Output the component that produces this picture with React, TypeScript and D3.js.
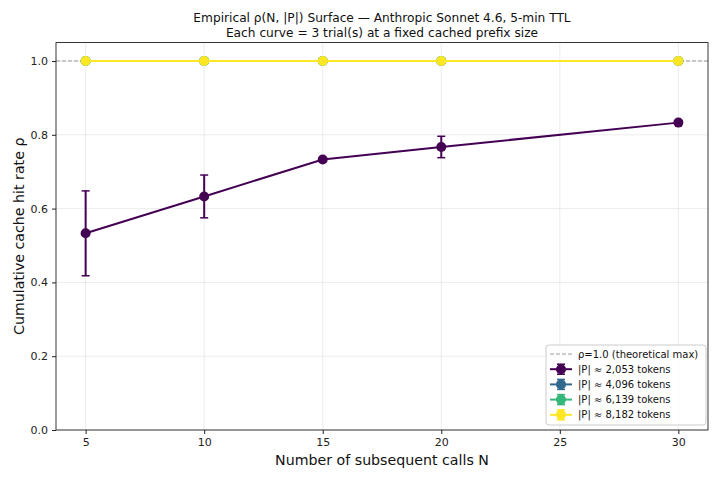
import React, { useEffect, useRef } from 'react'
import * as d3 from 'd3'

// subsequent-call counts sampled in every curve
const callCounts = [5, 10, 15, 20, 30]

const prefixLabels = ['|P| ≈ 2,053 tokens', '|P| ≈ 4,096 tokens', '|P| ≈ 6,139 tokens', '|P| ≈ 8,182 tokens']
const prefixColors = ['#440154', '#31688e', '#35b779', '#fde725']

// mean hit rate per prefix size
const rho2053 = [0.533, 0.633, 0.733, 0.767, 0.833]
const rho4096 = [1.0, 1.0, 1.0, 1.0, 1.0]
const rho6139 = [1.0, 1.0, 1.0, 1.0, 1.0]
const rho8182 = [1.0, 1.0, 1.0, 1.0, 1.0]

// spread across trials
const err2053 = [0.115, 0.058, 0.0, 0.029, 0.0]
const err4096 = [0, 0, 0, 0, 0]
const err6139 = [0, 0, 0, 0, 0]
const err8182 = [0, 0, 0, 0, 0]

const xTicks = [5, 10, 15, 20, 25, 30]
const yTicks = [0.0, 0.2, 0.4, 0.6, 0.8, 1.0]

export default function App() {
    const ref = useRef<SVGSVGElement | null>(null)

    const width = 720
    const height = 480
    const margin = { top: 42.55, right: 12, bottom: 50, left: 56 }

    function draw() {
        const svg = d3.select(ref.current)
        svg.selectAll('*').remove()
        svg.attr('width', width).attr('height', height)
            .style('position', 'absolute').style('left', 0).style('top', 0)
            .style('font-family', 'DejaVu Sans, sans-serif')

        svg.append('rect').attr('width', width).attr('height', height).attr('fill', 'white')

        const x = d3.scaleLinear().domain([3.75, 31.25]).range([margin.left, width - margin.right])
        const y = d3.scaleLinear().domain([0, 1.05]).range([height - margin.bottom, margin.top])

        const series = [rho2053, rho4096, rho6139, rho8182]
        const errs = [err2053, err4096, err6139, err8182]

        // grid
        const grid = svg.append('g')
        grid.selectAll('line.gx').data(xTicks).enter().append('line')
            .attr('x1', d => x(d)).attr('x2', d => x(d))
            .attr('y1', y(1.05)).attr('y2', y(0))
            .attr('stroke', '#b0b0b0').attr('stroke-opacity', 0.3).attr('stroke-width', 0.8)
        grid.selectAll('line.gy').data(yTicks).enter().append('line')
            .attr('y1', d => y(d)).attr('y2', d => y(d))
            .attr('x1', x(3.75)).attr('x2', x(31.25))
            .attr('stroke', '#b0b0b0').attr('stroke-opacity', 0.3).attr('stroke-width', 0.8)

        // theoretical ceiling
        svg.append('line')
            .attr('x1', x(3.75)).attr('x2', x(31.25))
            .attr('y1', y(1)).attr('y2', y(1))
            .attr('stroke', '#999').attr('stroke-width', 1).attr('stroke-dasharray', '4,2')

        const line = d3.line<number>().x((_, i) => x(callCounts[i])).y(d => y(d))

        series.forEach((vals, si) => {
            const g = svg.append('g')
            const c = prefixColors[si]
            g.selectAll('line.err').data(vals).enter().append('line')
                .attr('x1', (_, i) => x(callCounts[i])).attr('x2', (_, i) => x(callCounts[i]))
                .attr('y1', (d, i) => y(d - errs[si][i])).attr('y2', (d, i) => y(d + errs[si][i]))
                .attr('stroke', c).attr('stroke-width', 2)
            ;[-1, 1].forEach(s => {
                g.selectAll('line.cap' + s).data(vals).enter().append('line')
                    .attr('x1', (_, i) => x(callCounts[i]) - 4).attr('x2', (_, i) => x(callCounts[i]) + 4)
                    .attr('y1', (d, i) => y(d + s * errs[si][i])).attr('y2', (d, i) => y(d + s * errs[si][i]))
                    .attr('stroke', c).attr('stroke-width', 1.5)
            })
            g.append('path').attr('d', line(vals)).attr('fill', 'none')
                .attr('stroke', c).attr('stroke-width', 2)
            g.selectAll('circle').data(vals).enter().append('circle')
                .attr('cx', (_, i) => x(callCounts[i])).attr('cy', d => y(d))
                .attr('r', 5).attr('fill', c)
        })

        // frame
        svg.append('rect')
            .attr('x', x(3.75)).attr('y', y(1.05))
            .attr('width', x(31.25) - x(3.75)).attr('height', y(0) - y(1.05))
            .attr('fill', 'none').attr('stroke', '#222').attr('stroke-width', 0.9)

        const xAxis = svg.append('g').attr('transform', `translate(0,${y(0)})`)
            .call(d3.axisBottom(x).tickValues(xTicks).tickSize(4).tickPadding(4).tickFormat(d3.format('d')))
        const yAxis = svg.append('g').attr('transform', `translate(${x(3.75)},0)`)
            .call(d3.axisLeft(y).tickValues(yTicks).tickSize(4).tickPadding(4).tickFormat(d3.format('.1f')))
        ;[xAxis, yAxis].forEach(a => {
            a.select('.domain').remove()
            a.selectAll('text').attr('font-size', 11).attr('fill', '#222').attr('font-family', 'DejaVu Sans, sans-serif')
            a.selectAll('line').attr('stroke', '#222')
        })

        svg.append('text').attr('x', (x(3.75) + x(31.25)) / 2).attr('y', 465)
            .attr('text-anchor', 'middle').attr('font-size', 14.2).attr('fill', '#111')
            .text('Number of subsequent calls N')
        svg.append('text')
            .attr('transform', `translate(24,${(y(0) + y(1.05)) / 2}) rotate(-90)`)
            .attr('text-anchor', 'middle').attr('font-size', 14.2).attr('fill', '#111')
            .text('Cumulative cache hit rate ρ')

        const tx = (x(3.75) + x(31.25)) / 2
        svg.append('text').attr('x', tx).attr('y', 22).attr('text-anchor', 'middle')
            .attr('font-size', 12.2).attr('fill', '#111')
            .text('Empirical ρ(N, |P|) Surface — Anthropic Sonnet 4.6, 5-min TTL')
        svg.append('text').attr('x', tx).attr('y', 37).attr('text-anchor', 'middle')
            .attr('font-size', 12.2).attr('fill', '#111')
            .text('Each curve = 3 trial(s) at a fixed cached prefix size')

        // legend
        const lg = svg.append('g').attr('transform', 'translate(546,345)')
        lg.append('rect').attr('width', 160).attr('height', 80).attr('rx', 3)
            .attr('fill', 'white').attr('fill-opacity', 0.8).attr('stroke', '#ccc')
        const rowY = (i: number) => 9 + i * 15.2
        lg.append('line').attr('x1', 4).attr('x2', 26).attr('y1', rowY(0)).attr('y2', rowY(0))
            .attr('stroke', '#999').attr('stroke-dasharray', '4,2')
        lg.append('text').attr('x', 32).attr('y', rowY(0) + 3.5).attr('font-size', 10).attr('fill', '#111')
            .text('ρ=1.0 (theoretical max)')
        prefixLabels.forEach((lab, i) => {
            const yy = rowY(i + 1)
            const c = prefixColors[i]
            lg.append('line').attr('x1', 4).attr('x2', 26).attr('y1', yy).attr('y2', yy)
                .attr('stroke', c).attr('stroke-width', 2)
            lg.append('line').attr('x1', 15).attr('x2', 15).attr('y1', yy - 5).attr('y2', yy + 5)
                .attr('stroke', c).attr('stroke-width', 2)
            lg.append('line').attr('x1', 11).attr('x2', 19).attr('y1', yy - 5).attr('y2', yy - 5)
                .attr('stroke', c).attr('stroke-width', 1.5)
            lg.append('line').attr('x1', 11).attr('x2', 19).attr('y1', yy + 5).attr('y2', yy + 5)
                .attr('stroke', c).attr('stroke-width', 1.5)
            lg.append('circle').attr('cx', 15).attr('cy', yy).attr('r', 5).attr('fill', c)
            lg.append('text').attr('x', 32).attr('y', yy + 3.5).attr('font-size', 10).attr('fill', '#111').text(lab)
        })
    }

    useEffect(() => {
        draw()
    }, [])

    return (
        <div>
            <svg ref={ref} />
        </div>
    )
}
